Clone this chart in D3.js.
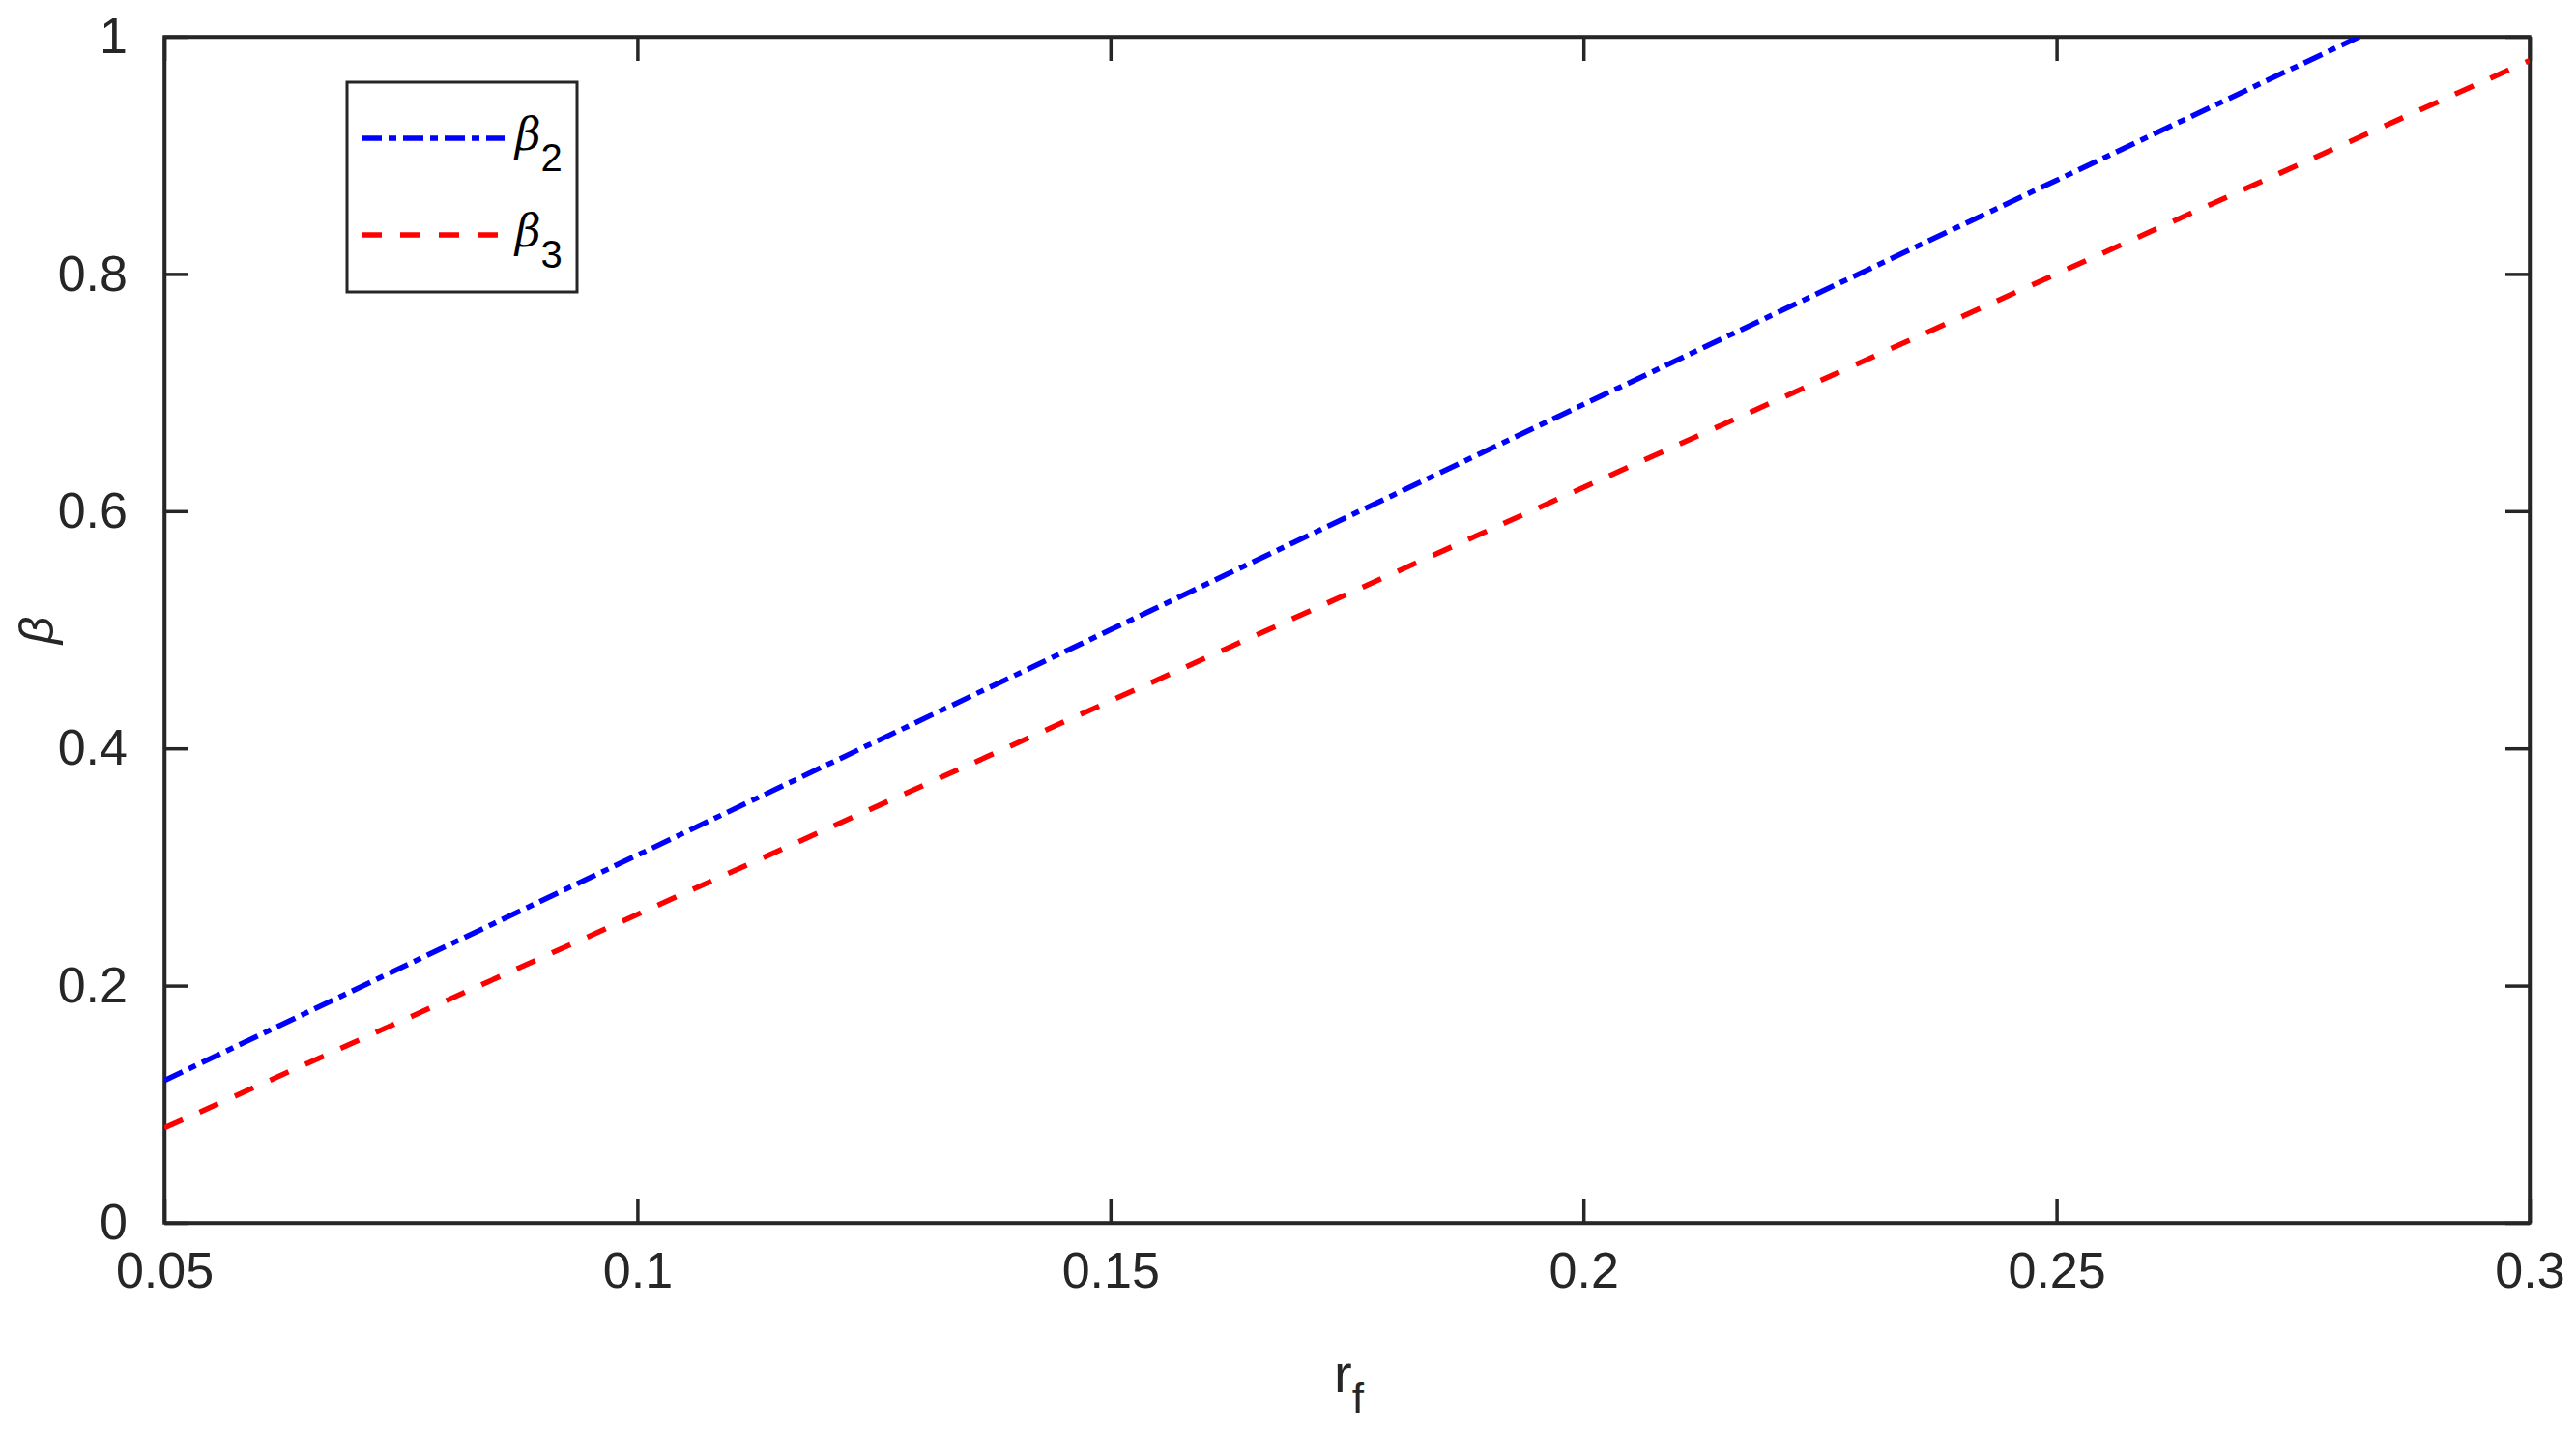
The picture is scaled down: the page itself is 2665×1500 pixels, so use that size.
<!DOCTYPE html>
<html><head><meta charset="utf-8">
<script src="https://cdn.jsdelivr.net/npm/d3@7"></script>
<style>
body{margin:0;background:#fff}
text{font-family:"Liberation Sans Narrow","Liberation Sans",Arial,sans-serif;fill:#262626}
</style></head><body>
<svg id="chart" width="2665" height="1500"></svg>
<script>
const rf = [0.05, 0.1, 0.15, 0.2, 0.25, 0.282];
const beta2 = [0.12, 0.31, 0.5, 0.69, 0.879, 1.0];
const rf3 = [0.05, 0.1, 0.15, 0.2, 0.25, 0.3];
const beta3 = [0.08, 0.26, 0.44, 0.62, 0.80, 0.98];
const xTicks = [0.05, 0.1, 0.15, 0.2, 0.25, 0.3];
const yTicks = [0, 0.2, 0.4, 0.6, 0.8, 1];

const svg = d3.select("#chart");
const L = 170, R = 2617, T = 38, B = 1265;
const x = d3.scaleLinear().domain([0.05, 0.3]).range([L, R]);
const y = d3.scaleLinear().domain([0, 1]).range([B, T]);
const tick = 25, fs = 52;

svg.append("g").attr("transform", `translate(0,${B})`)
  .call(d3.axisBottom(x).tickValues(xTicks).tickSizeInner(-tick).tickSizeOuter(0).tickPadding(30).tickFormat(d => String(d)))
  .call(g => g.selectAll("text").attr("font-size", fs));
svg.append("g").attr("transform", `translate(0,${T})`)
  .call(d3.axisTop(x).tickValues(xTicks).tickSizeInner(-tick).tickSizeOuter(0).tickFormat(""));
svg.append("g").attr("transform", `translate(${L},0)`)
  .call(d3.axisLeft(y).tickValues(yTicks).tickSizeInner(-tick).tickSizeOuter(0).tickPadding(38).tickFormat(d => String(d)))
  .call(g => g.selectAll("text").attr("font-size", fs));
svg.append("g").attr("transform", `translate(${R},0)`)
  .call(d3.axisRight(y).tickValues(yTicks).tickSizeInner(-tick).tickSizeOuter(0).tickFormat(""));
svg.selectAll(".domain, .tick line").attr("stroke", "#262626").attr("stroke-width", 3.5);
svg.append("rect").attr("x", L).attr("y", T).attr("width", R - L).attr("height", B - T)
  .attr("fill", "none").attr("stroke", "#262626").attr("stroke-width", 3.5);

const line = d3.line().x(d => x(d[0])).y(d => y(d[1]));
const clip = svg.append("clipPath").attr("id", "c").append("rect")
  .attr("x", L).attr("y", T).attr("width", R - L).attr("height", B - T);
const blueDash = "21,7,8,7", redDash = "21,19";
svg.append("path").datum(rf.map((v, i) => [v, beta2[i]])).attr("d", line)
  .attr("fill", "none").attr("stroke", "#0000ff").attr("stroke-width", 5.5).attr("stroke-dasharray", blueDash).attr("clip-path", "url(#c)");
svg.append("path").datum(rf3.map((v, i) => [v, beta3[i]])).attr("d", line)
  .attr("fill", "none").attr("stroke", "#ff0000").attr("stroke-width", 5.5).attr("stroke-dasharray", redDash).attr("clip-path", "url(#c)");

// legend
const lg = svg.append("g");
lg.append("rect").attr("x", 359).attr("y", 85).attr("width", 238).attr("height", 217)
  .attr("fill", "#fff").attr("stroke", "#262626").attr("stroke-width", 3);
const items = [["2", "#0000ff", blueDash, 143], ["3", "#ff0000", redDash, 243]];
items.forEach(([sub, c, dash, yy]) => {
  lg.append("line").attr("x1", 374).attr("x2", 522).attr("y1", yy).attr("y2", yy)
    .attr("stroke", c).attr("stroke-width", 5.5).attr("stroke-dasharray", dash);
  const t = lg.append("text").attr("x", 533).attr("y", yy + 12).attr("font-size", 50).style("fill", "#000");
  t.append("tspan").attr("font-style", "italic").attr("font-family", "DejaVu Serif, serif").attr("font-size", 46).text("β");
  t.append("tspan").attr("dy", 22).attr("font-size", 40).text(sub);
});

// axis labels
svg.append("text").attr("transform", "translate(55,652) rotate(-90)").attr("text-anchor", "middle")
  .attr("font-size", 50).attr("font-style", "italic").attr("font-family", "DejaVu Serif, serif").text("β");
const xl = svg.append("text").attr("x", 1380).attr("y", 1440).attr("font-size", 56);
xl.append("tspan").text("r");
xl.append("tspan").attr("dy", 22).attr("font-size", 44).text("f");
</script></body></html>
